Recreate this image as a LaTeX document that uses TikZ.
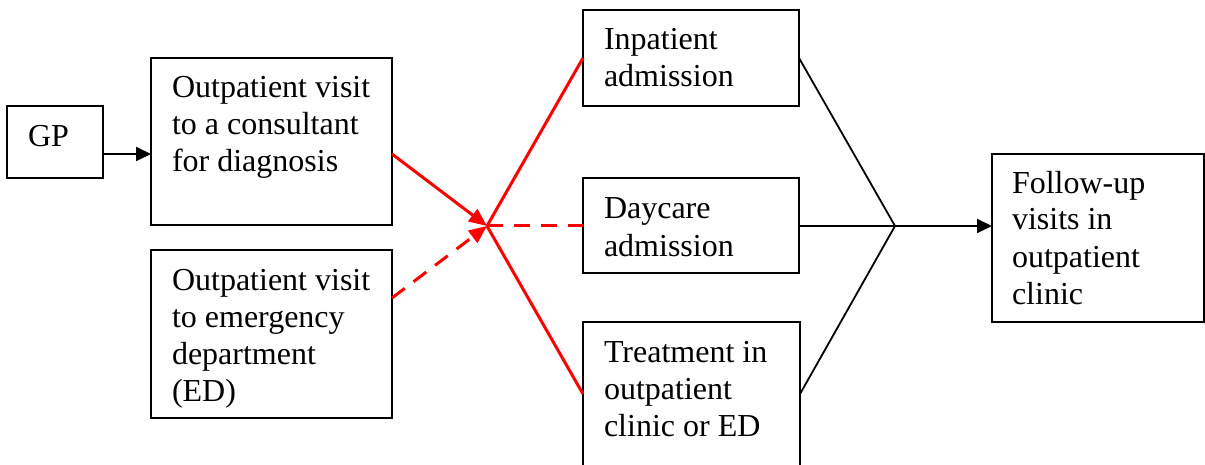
\documentclass[tikz,border=0pt]{standalone}
\usepackage{fontspec}
\setmainfont{Liberation Serif}
\usetikzlibrary{arrows.meta,calc}
\begin{document}
\begin{tikzpicture}[x=1pt,y=-1pt,
  box/.style={draw=black,line width=1.8pt,inner sep=0pt,outer sep=0pt},
  txt/.style={anchor=north west,inner sep=0pt,outer sep=0pt,align=left,
    font=\fontsize{32}{37}\selectfont},
  blk/.style={draw=black,line width=1.8pt},
  redl/.style={draw=red,line width=3pt},
  reddash/.style={redl,dash pattern=on 16pt off 11pt},
  tip/.style={-{Triangle[length=15pt,width=14pt]}},
  rtip/.style={-{Triangle[length=18pt,width=15pt]}}]
\clip (0,0) rectangle (1205,465);
\fill[white] (0,0) rectangle (1205,465);
% boxes
\node[box,minimum width=96pt,minimum height=72pt] (gp) at (55,142) {};
\node[box,minimum width=241pt,minimum height=167pt] (cons) at (271.5,141.5) {};
\node[box,minimum width=241pt,minimum height=168pt] (ed) at (271.5,334) {};
\node[box,minimum width=216pt,minimum height=96pt] (inp) at (691,58) {};
\node[box,minimum width=216pt,minimum height=95pt] (day) at (691,225.5) {};
\node[box,minimum width=217pt,minimum height=144pt] (trt) at (691.5,394) {};
\node[box,minimum width=212pt,minimum height=168pt] (fu) at (1098,238) {};
% texts
\def\sp{\rule{0pt}{26pt}}
\node[txt] (tgp) at ($(gp.north west)+(21,15)$) {\sp GP};
\node[txt] (tcons) at ($(cons.north west)+(21,14)$) {\sp Outpatient visit\\to a consultant\\for diagnosis};
\node[txt] (ted) at ($(ed.north west)+(21,14)$) {\sp Outpatient visit\\to emergency\\department\\(ED)};
\node[txt] (tinp) at ($(inp.north west)+(21,14)$) {\sp Inpatient\\admission};
\node[txt] (tday) at ($(day.north west)+(21,15)$) {\sp Daycare\\admission};
\node[txt] (ttrt) at ($(trt.north west)+(21,14)$) {\sp Treatment in\\outpatient\\clinic or ED};
\node[txt] (tfu) at ($(fu.north west)+(20,13)$) {\sp Follow-up\\visits in\\outpatient\\clinic};
% junctions
\coordinate (j1) at (487,226);
\coordinate (j2) at (895,226);
% connectors
\draw[blk,tip] ([yshift=-12pt]gp.east) -- ([yshift=-12pt]gp.east -| cons.west);
\draw[redl,rtip] ([yshift=-12.5pt]cons.east) -- (j1);
\draw[reddash,rtip] ([yshift=36pt]ed.east) -- (j1);
\draw[redl] (j1) -- (inp.west);
\draw[reddash] (j1) -- (j1 -| day.west);
\draw[redl] (j1) -- (trt.west);
\draw[blk] (inp.east) -- (j2);
\draw[blk] (j2 -| day.east) -- (j2);
\draw[blk] (trt.east) -- (j2);
\draw[blk,tip] (j2) -- (j2 -| fu.west);
\end{tikzpicture}
\end{document}
